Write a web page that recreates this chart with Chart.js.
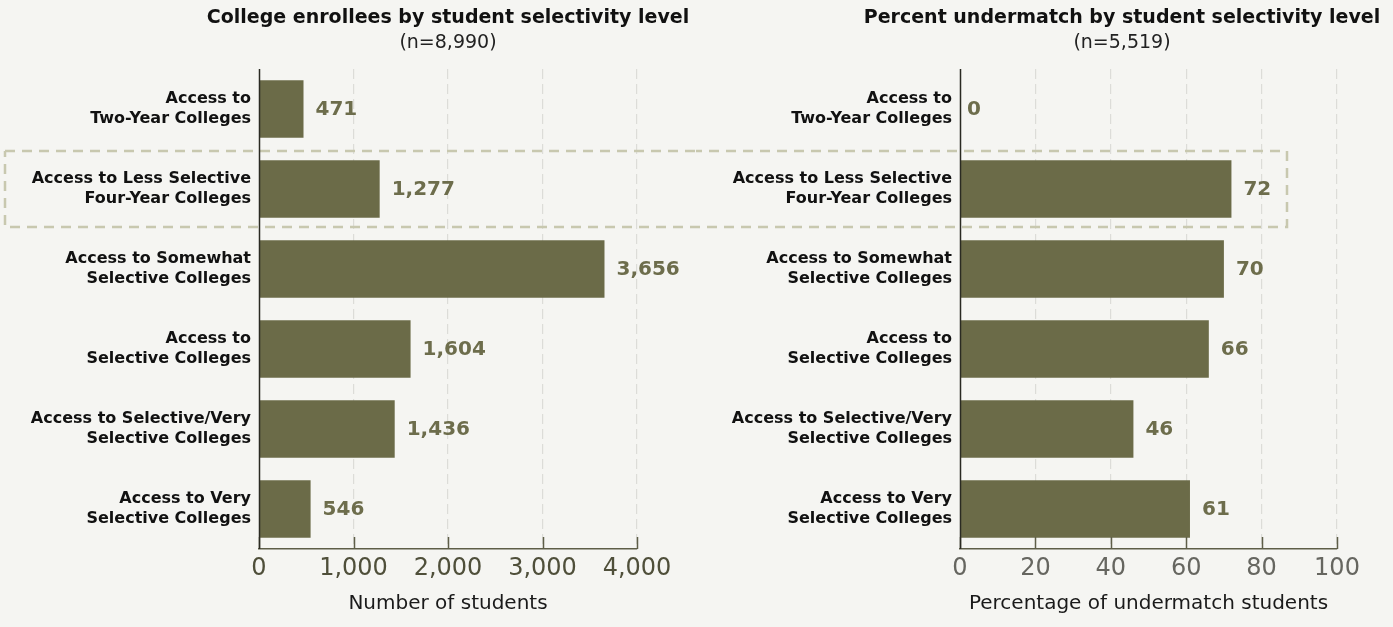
<!DOCTYPE html>
<html>
<head>
<meta charset="utf-8">
<script src="https://cdn.jsdelivr.net/npm/chart.js@4.4.1/dist/chart.umd.min.js"></script>
<style>
  html, body { margin: 0; padding: 0; background: #f5f5f2; }
  #wrap { position: relative; width: 1393px; height: 627px; overflow: hidden; }
  .box { position: absolute; top: 0; height: 627px; }
  #boxLeft { left: 0; width: 696px; }
  #boxRight { left: 696px; width: 697px; }
</style>
</head>
<body>
<div id="wrap">
  <div class="box" id="boxLeft"><canvas id="graficoAlunos"></canvas></div>
  <div class="box" id="boxRight"><canvas id="graficoUndermatch"></canvas></div>
</div>
<script>
// Categorias (duas linhas por rótulo)
const categorias = [
    ['Access to', 'Two-Year Colleges'],
    ['Access to Less Selective', 'Four-Year Colleges'],
    ['Access to Somewhat', 'Selective Colleges'],
    ['Access to', 'Selective Colleges'],
    ['Access to Selective/Very', 'Selective Colleges'],
    ['Access to Very', 'Selective Colleges']
];
const alunos = [471, 1277, 3656, 1604, 1436, 546];
const undermatch = [0, 72, 70, 66, 46, 61];
const ticksAlunos = [0, 1000, 2000, 3000, 4000];
const ticksUndermatch = [0, 20, 40, 60, 80, 100];

const corBarra = '#6b6b48';
const corValor = '#6d6d4c';
const fonte = '"DejaVu Sans", sans-serif';

// Título e subtítulo desenhados numa posição x fixa
const pluginTitulos = {
    id: 'titulos',
    afterDraw(chart, args, opts) {
        const ctx = chart.ctx;
        ctx.save();
        ctx.textAlign = 'center';
        ctx.textBaseline = 'middle';
        ctx.fillStyle = '#111';
        ctx.font = `bold 19px ${fonte}`;
        ctx.fillText(opts.titulo, opts.x, 18);
        ctx.font = `19px ${fonte}`;
        ctx.fillStyle = '#222';
        ctx.fillText(opts.sub, opts.x, 43);
        ctx.restore();
    }
};

// Valores ao lado das barras
const pluginValores = {
    id: 'valores',
    afterDatasetsDraw(chart) {
        const ctx = chart.ctx;
        const meta = chart.getDatasetMeta(0);
        const dados = chart.data.datasets[0].data;
        ctx.save();
        ctx.font = `bold 20px ${fonte}`;
        ctx.fillStyle = corValor;
        ctx.textAlign = 'left';
        ctx.textBaseline = 'middle';
        meta.data.forEach((bar, i) => {
            const dx = dados[i] === 0 ? 7 : 12;
            ctx.fillText(dados[i].toLocaleString('en-US'), bar.x + dx, bar.y + 1);
        });
        ctx.restore();
    }
};

// Tracinhos do eixo x virados para dentro + linha do eixo y
const pluginEixos = {
    id: 'eixos',
    afterDatasetsDraw(chart) {
        const ctx = chart.ctx;
        const a = chart.chartArea;
        const x = chart.scales.x;
        ctx.save();
        ctx.strokeStyle = '#5e5e48';
        ctx.lineWidth = 1.5;
        x.ticks.forEach(t => {
            const px = Math.round(x.getPixelForValue(t.value)) + 0.5;
            ctx.beginPath();
            ctx.moveTo(px, a.bottom);
            ctx.lineTo(px, a.bottom - 12);
            ctx.stroke();
        });
        ctx.strokeStyle = '#2a2a22';
        ctx.beginPath();
        ctx.moveTo(a.left + 0.5, a.top);
        ctx.lineTo(a.left + 0.5, a.bottom);
        ctx.stroke();
        ctx.restore();
    }
};

// Retângulo tracejado em volta da segunda categoria
const pluginDestaque = {
    id: 'destaque',
    beforeDatasetsDraw(chart, args, opts) {
        const ctx = chart.ctx;
        const y = chart.scales.y;
        const meio = y.getPixelForValue(1);
        const passo = y.getPixelForValue(2) - meio;
        const topo = meio - passo / 2 + 2;
        const base = meio + passo / 2 - 2;
        ctx.save();
        ctx.strokeStyle = '#c8c8af';
        ctx.lineWidth = 2.5;
        ctx.setLineDash([10, 7]);
        ctx.beginPath();
        ctx.moveTo(opts.x0, topo);
        ctx.lineTo(opts.x1, topo);
        if (opts.fechaDireita) ctx.lineTo(opts.x1, base);
        else ctx.moveTo(opts.x1, base);
        ctx.lineTo(opts.x0, base);
        if (opts.fechaEsquerda) ctx.lineTo(opts.x0, topo);
        ctx.stroke();
        ctx.restore();
    }
};

function gerarGrafico(id, valores, ticks, max, titulo, sub, tituloX, larguraY, dir, eixoTitulo, corTicks, destaque) {
    const ctx = document.getElementById(id).getContext('2d');
    return new Chart(ctx, {
        type: 'bar',
        data: {
            labels: categorias,
            datasets: [{
                data: valores,
                backgroundColor: corBarra,
                borderWidth: 0,
                barPercentage: 0.72,
                categoryPercentage: 1
            }]
        },
        options: {
            indexAxis: 'y',
            responsive: true,
            maintainAspectRatio: false,
            animation: false,
            layout: { padding: { top: 69, right: dir, bottom: 0, left: 0 } },
            plugins: {
                legend: { display: false },
                tooltip: { enabled: false },
                titulos: { titulo: titulo, sub: sub, x: tituloX },
                destaque: destaque
            },
            scales: {
                x: {
                    min: 0,
                    max: max,
                    afterBuildTicks: s => { s.ticks = ticks.map(v => ({ value: v })); },
                    afterFit: s => { s.height = 78; },
                    grid: {
                        color: ctx => ctx.tick && ctx.tick.value === 0 ? 'rgba(0,0,0,0)' : '#dcdcd8',
                        lineWidth: 1.2,
                        drawTicks: false
                    },
                    border: { color: '#5e5e48', width: 1.5, dash: [10, 5] },
                    ticks: {
                        padding: 5,
                        color: corTicks,
                        font: { family: fonte, size: 24 },
                        callback: v => v.toLocaleString('en-US')
                    },
                    title: {
                        display: true,
                        text: eixoTitulo,
                        color: '#1a1a1a',
                        font: { family: fonte, size: 20 },
                        padding: { top: 0, bottom: 11 }
                    }
                },
                y: {
                    afterFit: s => { s.width = larguraY; },
                    grid: { display: false, drawTicks: false },
                    border: { display: false },
                    ticks: {
                        padding: 8,
                        color: '#111',
                        font: { family: fonte, size: 16, weight: 'bold', lineHeight: 1.22 }
                    }
                }
            }
        },
        plugins: [pluginDestaque, pluginValores, pluginEixos, pluginTitulos]
    });
}

gerarGrafico('graficoAlunos', alunos, ticksAlunos, 4000,
    'College enrollees by student selectivity level', '(n=8,990)', 448, 259, 59,
    'Number of students', '#4f4f3a',
    { x0: 5, x1: 700, fechaEsquerda: true, fechaDireita: false });

gerarGrafico('graficoUndermatch', undermatch, ticksUndermatch, 100,
    'Percent undermatch by student selectivity level', '(n=5,519)', 426, 264, 56,
    'Percentage of undermatch students', '#666660',
    { x0: -4, x1: 591, fechaEsquerda: false, fechaDireita: true });
</script>
</body>
</html>
